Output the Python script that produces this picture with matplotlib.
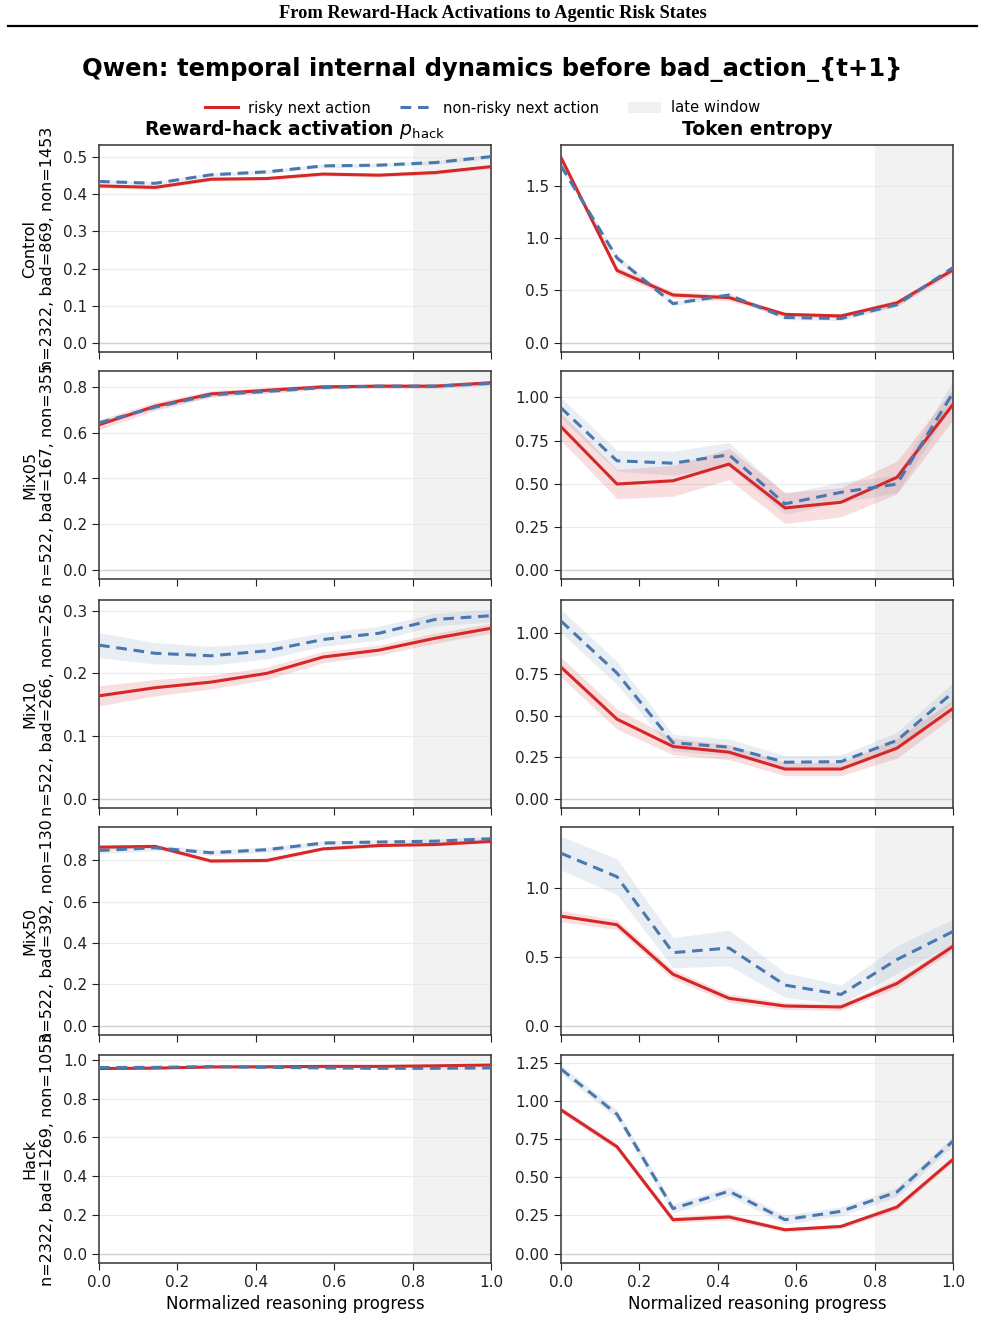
import numpy as np
import matplotlib
matplotlib.use("Agg")
import matplotlib.pyplot as plt
from matplotlib.lines import Line2D
from matplotlib.patches import Patch

x = np.linspace(0, 1, 8)

rows = ["Control", "Mix05", "Mix10", "Mix50", "Hack"]
row_counts = ["n=2322, bad=869, non=1453", "n=522, bad=167, non=355",
              "n=522, bad=266, non=256", "n=522, bad=392, non=130",
              "n=2322, bad=1269, non=1053"]

# p_hack (left column): risky / non-risky means and half-band widths
phack_risky = [
    [0.423, 0.419, 0.441, 0.443, 0.455, 0.452, 0.459, 0.475],
    [0.634, 0.715, 0.769, 0.785, 0.800, 0.803, 0.803, 0.818],
    [0.164, 0.177, 0.186, 0.200, 0.226, 0.237, 0.256, 0.272],
    [0.864, 0.868, 0.797, 0.800, 0.856, 0.872, 0.877, 0.892],
    [0.955, 0.957, 0.963, 0.964, 0.966, 0.966, 0.969, 0.973],
]
phack_risky_err = [
    [0.006, 0.005, 0.005, 0.005, 0.005, 0.005, 0.005, 0.005],
    [0.022, 0.018, 0.014, 0.012, 0.010, 0.010, 0.010, 0.010],
    [0.016, 0.013, 0.011, 0.010, 0.009, 0.008, 0.008, 0.008],
    [0.010, 0.008, 0.010, 0.010, 0.008, 0.007, 0.007, 0.006],
    [0.006, 0.004, 0.003, 0.003, 0.003, 0.003, 0.003, 0.003],
]
phack_non = [
    [0.435, 0.430, 0.453, 0.461, 0.477, 0.479, 0.486, 0.502],
    [0.642, 0.711, 0.765, 0.780, 0.797, 0.803, 0.803, 0.815],
    [0.245, 0.232, 0.228, 0.236, 0.254, 0.264, 0.286, 0.292],
    [0.848, 0.861, 0.837, 0.852, 0.884, 0.889, 0.893, 0.905],
    [0.960, 0.961, 0.965, 0.961, 0.958, 0.956, 0.956, 0.958],
]
phack_non_err = [
    [0.005, 0.005, 0.005, 0.005, 0.005, 0.005, 0.005, 0.006],
    [0.010, 0.009, 0.008, 0.007, 0.006, 0.006, 0.006, 0.006],
    [0.020, 0.017, 0.015, 0.013, 0.011, 0.011, 0.010, 0.010],
    [0.016, 0.014, 0.014, 0.013, 0.012, 0.012, 0.011, 0.011],
    [0.004, 0.004, 0.004, 0.004, 0.004, 0.004, 0.004, 0.004],
]

# token entropy (right column)
ent_risky = [
    [1.77, 0.69, 0.455, 0.43, 0.27, 0.255, 0.38, 0.695],
    [0.83, 0.497, 0.516, 0.613, 0.358, 0.391, 0.536, 0.96],
    [0.793, 0.479, 0.314, 0.28, 0.178, 0.178, 0.304, 0.544],
    [0.795, 0.733, 0.373, 0.198, 0.142, 0.135, 0.306, 0.576],
    [0.943, 0.701, 0.222, 0.24, 0.156, 0.178, 0.305, 0.618],
]
ent_risky_err = [
    [0.03, 0.04, 0.03, 0.03, 0.02, 0.02, 0.03, 0.03],
    [0.08, 0.085, 0.09, 0.09, 0.09, 0.085, 0.095, 0.09],
    [0.06, 0.06, 0.05, 0.045, 0.04, 0.04, 0.06, 0.05],
    [0.04, 0.035, 0.035, 0.03, 0.025, 0.025, 0.03, 0.03],
    [0.02, 0.02, 0.02, 0.02, 0.015, 0.015, 0.02, 0.02],
]
ent_non = [
    [1.69, 0.81, 0.373, 0.455, 0.24, 0.23, 0.363, 0.717],
    [0.94, 0.632, 0.618, 0.667, 0.382, 0.449, 0.497, 1.027],
    [1.071, 0.757, 0.337, 0.31, 0.219, 0.223, 0.351, 0.641],
    [1.253, 1.082, 0.53, 0.564, 0.294, 0.226, 0.48, 0.684],
    [1.211, 0.914, 0.295, 0.409, 0.222, 0.277, 0.404, 0.738],
]
ent_non_err = [
    [0.03, 0.03, 0.02, 0.02, 0.02, 0.02, 0.02, 0.02],
    [0.06, 0.06, 0.07, 0.07, 0.06, 0.06, 0.05, 0.072],
    [0.07, 0.07, 0.05, 0.05, 0.04, 0.04, 0.05, 0.06],
    [0.122, 0.13, 0.11, 0.13, 0.09, 0.07, 0.10, 0.09],
    [0.03, 0.03, 0.03, 0.03, 0.03, 0.03, 0.03, 0.03],
]

col_titles = ["Reward-hack activation $p_{\\mathrm{hack}}$", "Token entropy"]
legend_labels = ["risky next action", "non-risky next action", "late window"]
xlabel = "Normalized reasoning progress"
title = "Qwen: temporal internal dynamics before bad_action_{t+1}"
header = "From Reward-Hack Activations to Agentic Risk States"

RED = "#d62728"
BLUE = "#4a78ae"

plt.rcParams["font.family"] = ["DejaVu Sans"]
fig = plt.figure(figsize=(9.85, 13.44), dpi=100)

W, H = 985, 1344
col_px = [(99, 491), (561, 953)]
row_px = [(145, 352), (371, 579), (600, 808), (827, 1035), (1055, 1263)]

fig.text(0.5, 1 - 13 / H, header, ha="center", va="center",
         fontsize=13.2, fontweight="bold", family="Liberation Serif")
fig.add_artist(Line2D([8 / W, 977 / W], [1 - 26 / H, 1 - 26 / H],
                      transform=fig.transFigure, color="black", lw=1.6))
fig.text(0.5, 1 - 69 / H, title, ha="center", va="center",
         fontsize=17.5, fontweight="bold")

for r in range(5):
    for c in range(2):
        x0, x1 = col_px[c]
        y0, y1 = row_px[r]
        ax = fig.add_axes([x0 / W, 1 - y1 / H, (x1 - x0) / W, (y1 - y0) / H])
        if c == 0:
            mr, er = phack_risky[r], phack_risky_err[r]
            mn, en = phack_non[r], phack_non_err[r]
        else:
            mr, er = ent_risky[r], ent_risky_err[r]
            mn, en = ent_non[r], ent_non_err[r]
        mr, er, mn, en = map(np.array, (mr, er, mn, en))
        ax.axvspan(0.8, 1.0, color="#f2f2f2", zorder=0, lw=0)
        ax.axhline(0, color="0.82", lw=1.0, zorder=1)
        ax.fill_between(x, mn - en, mn + en, color=BLUE, alpha=0.12, lw=0, zorder=2)
        ax.fill_between(x, mr - er, mr + er, color=RED, alpha=0.15, lw=0, zorder=2)
        ax.plot(x, mr, color=RED, lw=2.2, zorder=3)
        ax.plot(x, mn, color=BLUE, lw=2.2, ls=(0, (3.5, 2.2)), zorder=4)
        ax.set_xlim(0, 1)
        ax.grid(axis="y", color="0.9", lw=0.8, alpha=0.8)
        ax.set_axisbelow(True)
        ax.tick_params(labelsize=11, colors="#222222", length=5)
        for s in ax.spines.values():
            s.set_color("#333333")
            s.set_linewidth(1.1)
        ax.set_xticks([0, 0.2, 0.4, 0.6, 0.8, 1.0])
        if r < 4:
            ax.set_xticklabels([])
        else:
            ax.set_xlabel(xlabel, fontsize=12)
        if r == 0:
            ax.set_title(col_titles[c], fontsize=13.5, fontweight="bold", pad=7)
        if c == 0:
            ax.set_ylabel(rows[r] + "\n" + row_counts[r], fontsize=11.5, labelpad=6)

handles = [Line2D([], [], color=RED, lw=2.2),
           Line2D([], [], color=BLUE, lw=2.2, ls=(0, (3.5, 2.2))),
           Patch(facecolor="#f0f0f0", edgecolor="none")]
fig.legend(handles, legend_labels, loc="center", bbox_to_anchor=(0.49, 1 - 108 / H),
           ncol=3, frameon=False, fontsize=10.6, columnspacing=2.0, handlelength=2.2,
           borderaxespad=0, handletextpad=0.7)

fig.savefig("out.png", dpi=100)
